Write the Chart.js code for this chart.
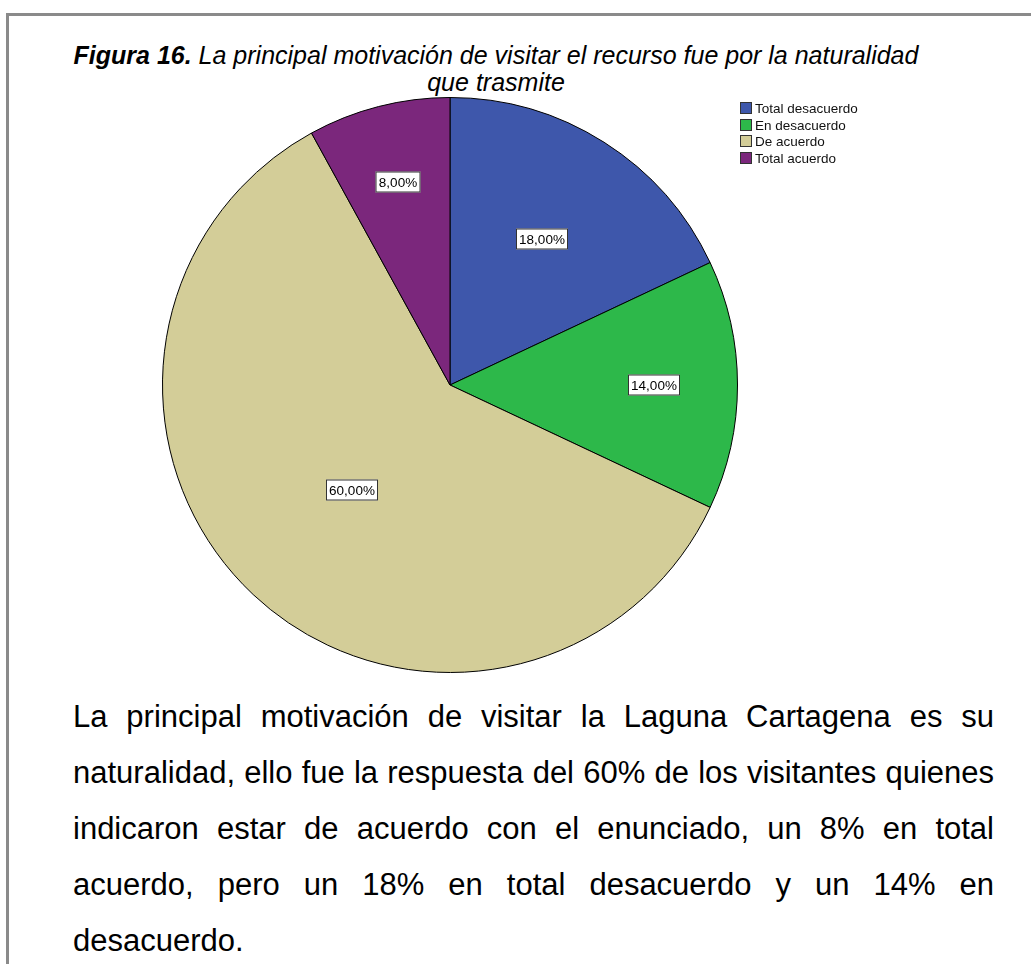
<!doctype html>
<html>

<head>
    <meta charset="utf-8">
    <title>Figura 16</title>
    <script src="https://cdn.jsdelivr.net/npm/chart.js@4.4.1/dist/chart.umd.min.js"></script>
    <style>
        body { margin: 0; background: #fff; font-family: "Liberation Sans", Arial, sans-serif; }
        #page { position: relative; width: 1031px; height: 964px; overflow: hidden; }
        #frame { position: absolute; left: 6px; top: 13px; width: 1040px; height: 1000px;
                 border-top: 3px solid #8a8a8a; border-left: 3px solid #8a8a8a; }
        #title { position: absolute; left: 0; top: 42px; width: 992px; text-align: center;
                 font-style: italic; font-size: 25px; line-height: 27px; color: #000; }
        #chart-holder { position: absolute; left: 0; top: 97px; width: 900px; height: 576px; }
        #legend { position: absolute; left: 740px; top: 102px; font-size: 13.5px; color: #111; }
        #legend div { height: 16.5px; line-height: 14px; white-space: nowrap; }
        #legend span { display: inline-block; width: 10px; height: 10px; border: 1px solid #333;
                       vertical-align: -1px; margin-right: 3px; }
        #text { position: absolute; left: 73px; top: 689px; width: 921px; font-size: 31px;
                line-height: 56px; color: #000; }
        #text div { text-align: justify; text-align-last: justify; white-space: nowrap; }
        #text div.last { text-align-last: left; }
    </style>
</head>

<body>
    <div id="page">
        <div id="frame"></div>
        <div id="title"><b>Figura 16.</b> La principal motivación de visitar el recurso fue por la naturalidad<br>que trasmite</div>
        <div id="chart-holder">
            <canvas id="chart-area" width="900" height="576"></canvas>
        </div>
        <div id="legend"></div>
        <div id="text">
            <div>La principal motivación de visitar la Laguna Cartagena es su</div>
            <div>naturalidad, ello fue la respuesta del 60% de los visitantes quienes</div>
            <div>indicaron estar de acuerdo con el enunciado, un 8% en total</div>
            <div>acuerdo, pero un 18% en total desacuerdo y un 14% en</div>
            <div class="last">desacuerdo.</div>
        </div>
    </div>
    <script>
    var categories = ["Total desacuerdo", "En desacuerdo", "De acuerdo", "Total acuerdo"];
    var percentages = [18, 14, 60, 8];
    var sliceColors = ["#3E57AB", "#2DB84A", "#D3CD98", "#7B277C"];

    // where each label box sits, as a share of the radius (SPSS does not centre them)
    var labelRadius = [0.6, 0.71, 0.5, 0.73];

    var boxLabels = {
        id: 'boxLabels',
        afterDatasetsDraw: function(chart) {
            var ctx = chart.ctx;
            var meta = chart.getDatasetMeta(0);
            ctx.save();
            ctx.font = '13.5px "Liberation Sans", Arial, sans-serif';
            ctx.textAlign = 'center';
            ctx.textBaseline = 'middle';
            meta.data.forEach(function(arc, i) {
                var p = arc.getProps(['x', 'y', 'startAngle', 'endAngle', 'outerRadius'], true);
                var mid = (p.startAngle + p.endAngle) / 2;
                var r = p.outerRadius * labelRadius[i];
                var x = Math.round(p.x + Math.cos(mid) * r);
                var y = Math.round(p.y + Math.sin(mid) * r);
                var txt = percentages[i].toFixed(2).replace('.', ',') + '%';
                var w = Math.ceil(ctx.measureText(txt).width) + 6;
                var h = 21;
                ctx.fillStyle = '#fff';
                ctx.fillRect(x - w / 2, y - h / 2, w, h);
                ctx.strokeStyle = '#333';
                ctx.lineWidth = 1;
                ctx.strokeRect(x - w / 2 + 0.5, y - h / 2 + 0.5, w - 1, h - 1);
                ctx.fillStyle = '#000';
                ctx.fillText(txt, x, y + 1);
            });
            ctx.restore();
        }
    };

    var config = {
        type: 'pie',
        data: {
            labels: categories,
            datasets: [{
                data: percentages,
                backgroundColor: sliceColors,
                borderColor: '#000',
                borderWidth: 1
            }]
        },
        options: {
            responsive: false,
            animation: false,
            plugins: {
                legend: { display: false },
                tooltip: { enabled: false }
            }
        },
        plugins: [boxLabels]
    };

    window.onload = function() {
        var legend = document.getElementById('legend');
        categories.forEach(function(name, i) {
            var row = document.createElement('div');
            row.innerHTML = '<span style="background:' + sliceColors[i] + '"></span>' + name;
            legend.appendChild(row);
        });
        var ctx = document.getElementById("chart-area").getContext("2d");
        window.myPie = new Chart(ctx, config);
    };
    </script>
</body>

</html>
